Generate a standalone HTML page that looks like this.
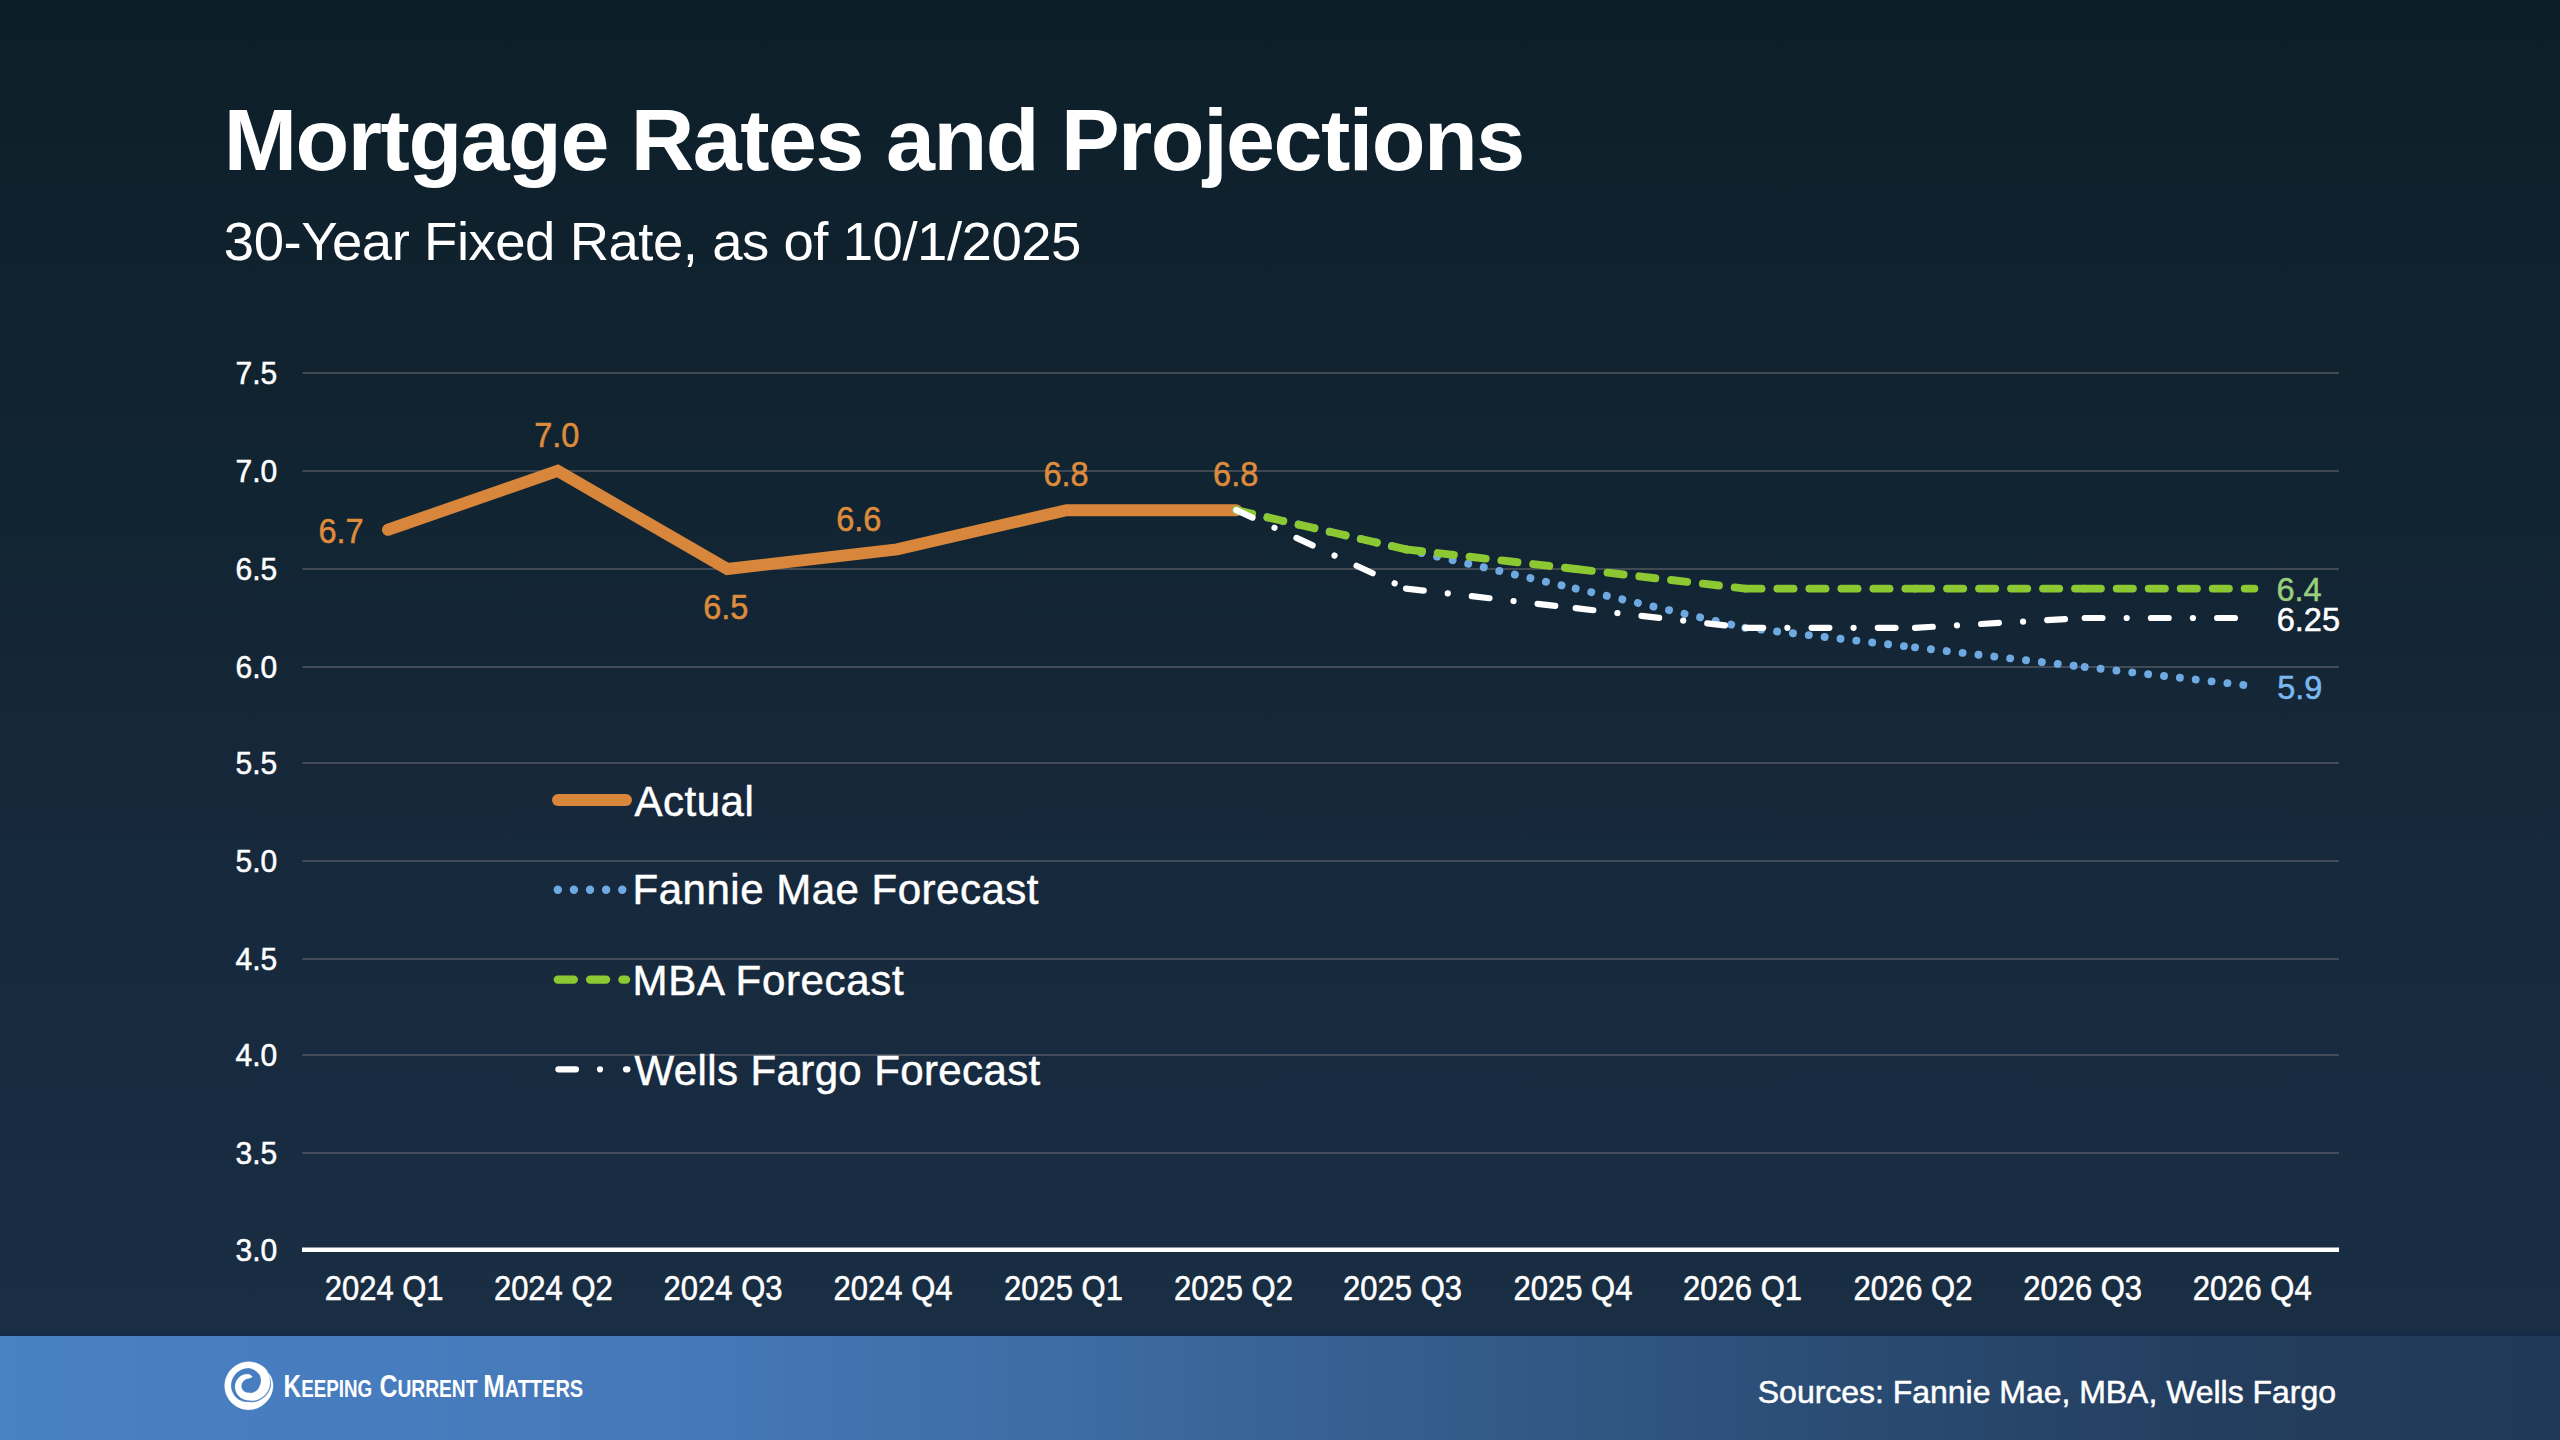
<!DOCTYPE html>
<html>
<head>
<meta charset="utf-8">
<style>
html,body{margin:0;padding:0;}
body{width:2560px;height:1440px;overflow:hidden;position:relative;font-family:"Liberation Sans",sans-serif;background:linear-gradient(to bottom,#0c1f29 0px,#10232f 400px,#16283a 800px,#182c42 1200px,#192d43 1330px,#162b4a 1336px);}
#footer{position:absolute;left:0;top:1336px;width:2560px;height:104px;
  background:linear-gradient(90deg,rgb(73,129,197) 0px,rgb(69,120,184) 700px,rgb(63,110,167) 1000px,rgb(56,98,148) 1300px,rgb(48,86,130) 1600px,rgb(41,74,112) 1900px,rgb(36,62,95) 2200px,rgb(33,57,86) 2560px);}
svg{position:absolute;left:0;top:0;}
</style>
</head>
<body>
<div id="footer"></div>
<svg width="2560" height="1440" viewBox="0 0 2560 1440" font-family="Liberation Sans, sans-serif">
<path d="M 252.22 1376.68 L 251.96 1376.38 L 251.67 1376.08 L 251.37 1375.80 L 251.06 1375.52 L 250.73 1375.25 L 250.37 1375.04 L 250.00 1374.84 L 249.62 1374.66 L 249.23 1374.49 L 248.83 1374.33 L 248.42 1374.28 L 248.01 1374.25 L 247.59 1374.23 L 247.18 1374.23 L 246.76 1374.24 L 246.34 1374.26 L 245.91 1374.30 L 245.49 1374.36 L 245.07 1374.43 L 244.65 1374.51 L 244.23 1374.62 L 243.81 1374.73 L 243.40 1374.86 L 242.99 1375.01 L 242.58 1375.17 L 242.18 1375.35 L 241.78 1375.54 L 241.38 1375.75 L 241.00 1375.97 L 240.62 1376.21 L 240.24 1376.46 L 239.88 1376.73 L 239.53 1377.01 L 239.19 1377.32 L 238.86 1377.64 L 238.55 1377.97 L 238.25 1378.31 L 237.95 1378.66 L 237.67 1379.03 L 237.40 1379.40 L 237.15 1379.79 L 236.90 1380.18 L 236.67 1380.59 L 236.46 1381.00 L 236.26 1381.42 L 236.07 1381.85 L 235.90 1382.29 L 235.74 1382.74 L 235.60 1383.19 L 235.47 1383.64 L 235.36 1384.11 L 235.27 1384.57 L 235.19 1385.05 L 235.13 1385.52 L 235.08 1386.00 L 235.07 1386.48 L 235.08 1386.96 L 235.10 1387.44 L 235.14 1387.92 L 235.20 1388.40 L 235.27 1388.88 L 235.36 1389.36 L 235.47 1389.83 L 235.59 1390.30 L 235.74 1390.77 L 235.89 1391.23 L 236.07 1391.68 L 236.26 1392.13 L 236.46 1392.58 L 236.68 1393.01 L 236.92 1393.44 L 237.17 1393.86 L 237.44 1394.28 L 237.72 1394.68 L 238.01 1395.08 L 238.32 1395.46 L 238.65 1395.83 L 238.99 1396.19 L 239.35 1396.53 L 239.72 1396.86 L 240.10 1397.17 L 240.49 1397.47 L 240.90 1397.76 L 241.31 1398.03 L 241.73 1398.29 L 242.16 1398.54 L 242.60 1398.76 L 243.05 1398.98 L 243.51 1399.17 L 243.97 1399.36 L 244.44 1399.52 L 244.91 1399.67 L 245.39 1399.80 L 245.87 1399.92 L 246.36 1400.02 L 246.85 1400.10 L 247.34 1400.16 L 247.84 1400.21 L 248.33 1400.24 L 248.83 1400.25 L 249.33 1400.36 L 249.84 1400.46 L 250.36 1400.54 L 250.88 1400.60 L 251.41 1400.64 L 251.95 1400.66 L 252.48 1400.66 L 253.03 1400.64 L 253.57 1400.60 L 254.12 1400.54 L 254.67 1400.46 L 255.22 1400.36 L 255.77 1400.24 L 256.32 1400.09 L 256.87 1399.93 L 257.42 1399.74 L 257.96 1399.54 L 258.50 1399.31 L 259.03 1399.06 L 259.56 1398.79 L 260.08 1398.50 L 260.60 1398.18 L 261.12 1397.87 L 261.65 1397.55 L 262.18 1397.20 L 262.70 1396.83 L 263.20 1396.44 L 263.70 1396.03 L 264.19 1395.60 L 264.66 1395.14 L 265.12 1394.66 L 265.56 1394.16 L 265.99 1393.64 L 266.41 1393.10 L 266.81 1392.54 L 267.19 1391.96 L 267.55 1391.37 L 267.89 1390.75 L 268.21 1390.12 L 268.51 1389.47 L 268.79 1388.80 L 269.04 1388.12 L 269.27 1387.43 L 269.48 1386.72 L 269.66 1386.00 L 269.79 1385.27 L 269.89 1384.53 L 269.96 1383.78 L 270.01 1383.02 L 270.03 1382.26 L 270.02 1381.50 L 269.99 1380.72 L 269.92 1379.95 L 269.83 1379.18 L 269.71 1378.40 L 269.56 1377.62 L 269.38 1376.85 L 269.18 1376.08 L 268.94 1375.31 L 268.68 1374.54 L 268.38 1373.78 L 268.06 1373.03 L 267.71 1372.29 L 267.33 1371.55 L 266.92 1370.82 L 266.48 1370.11 L 266.01 1369.41 L 265.48 1368.76 L 264.87 1368.18 L 264.25 1367.62 L 263.61 1367.08 L 262.95 1366.57 L 262.27 1366.08 L 261.57 1365.61 L 260.86 1365.17 L 260.13 1364.75 L 259.39 1364.36 L 258.63 1363.99 L 257.86 1363.65 L 257.08 1363.33 L 256.29 1363.05 L 255.49 1362.79 L 254.67 1362.56 L 253.86 1362.36 L 253.03 1362.18 L 252.20 1362.04 L 251.36 1361.92 L 250.52 1361.83 L 249.68 1361.78 L 248.83 1361.75 L 247.98 1361.77 L 247.14 1361.82 L 246.30 1361.89 L 245.46 1362.00 L 244.62 1362.14 L 243.79 1362.30 L 242.97 1362.50 L 242.15 1362.72 L 241.35 1362.97 L 240.55 1363.25 L 239.76 1363.55 L 238.98 1363.89 L 238.22 1364.25 L 237.47 1364.63 L 236.73 1365.05 L 236.01 1365.49 L 235.30 1365.95 L 234.62 1366.44 L 233.94 1366.95 L 233.29 1367.48 L 232.66 1368.04 L 232.04 1368.61 L 231.45 1369.21 L 230.87 1369.83 L 230.32 1370.47 L 229.79 1371.12 L 229.28 1371.80 L 228.79 1372.49 L 228.34 1373.19 L 227.90 1373.92 L 227.49 1374.65 L 227.11 1375.41 L 226.75 1376.17 L 226.42 1376.95 L 226.12 1377.73 L 225.85 1378.53 L 225.60 1379.34 L 225.38 1380.15 L 225.19 1380.98 L 225.03 1381.80 L 224.90 1382.64 L 224.80 1383.47 L 224.72 1384.31 L 224.68 1385.16 L 224.66 1386.00 L 224.69 1386.84 L 224.74 1387.68 L 224.82 1388.52 L 224.94 1389.36 L 225.08 1390.19 L 225.25 1391.01 L 225.44 1391.83 L 225.67 1392.64 L 225.93 1393.44 L 226.21 1394.23 L 226.52 1395.01 L 226.85 1395.78 L 227.22 1396.54 L 227.61 1397.28 L 228.02 1398.01 L 228.46 1398.73 L 228.93 1399.43 L 229.41 1400.11 L 229.93 1400.77 L 230.46 1401.41 L 231.02 1402.04 L 231.59 1402.65 L 232.19 1403.23 L 232.81 1403.79 L 233.44 1404.34 L 234.10 1404.85 L 234.77 1405.35 L 235.46 1405.82 L 236.17 1406.27 L 236.89 1406.69 L 237.62 1407.08 L 238.37 1407.45 L 239.12 1407.80 L 239.89 1408.12 L 240.68 1408.40 L 241.47 1408.67 L 242.26 1408.90 L 243.07 1409.11 L 243.88 1409.29 L 244.70 1409.43 L 245.52 1409.56 L 246.34 1409.65 L 247.17 1409.71 L 248.00 1409.74 L 248.83 1409.75 L 249.66 1409.73 L 250.49 1409.67 L 251.31 1409.59 L 252.13 1409.48 L 252.95 1409.34 L 253.76 1409.18 L 254.56 1408.98 L 255.36 1408.76 L 256.14 1408.51 L 256.92 1408.23 L 257.69 1407.93 L 258.44 1407.60 L 259.19 1407.24 L 259.92 1406.86 L 260.64 1406.45 L 261.34 1406.02 L 262.02 1405.56 L 262.69 1405.08 L 263.34 1404.58 L 263.98 1404.05 L 264.59 1403.51 L 265.19 1402.94 L 265.78 1402.36 L 266.36 1401.78 L 266.92 1401.18 L 267.47 1400.56 L 267.99 1399.92 L 268.49 1399.26 L 268.97 1398.58 L 269.42 1397.89 L 269.85 1397.18 L 270.26 1396.45 L 270.64 1395.71 L 270.99 1394.95 L 271.32 1394.19 L 271.62 1393.41 L 271.90 1392.61 L 272.15 1391.81 L 272.37 1391.00 L 272.56 1390.18 L 272.72 1389.36 L 272.85 1388.52 L 272.96 1387.69 L 273.03 1386.85 L 273.08 1386.00 L 273.05 1385.15 L 272.99 1384.31 L 272.90 1383.47 L 272.78 1382.63 L 272.63 1381.80 L 272.45 1380.98 L 272.25 1380.16 L 272.01 1379.35 L 271.75 1378.55 L 271.46 1377.76 L 271.08 1377.01 L 270.68 1376.27 L 270.25 1375.55 L 269.80 1374.85 L 269.33 1374.17 L 268.83 1373.50 L 268.62 1373.64 L 268.97 1374.38 L 269.28 1375.12 L 269.58 1375.88 L 269.84 1376.65 L 270.08 1377.42 L 270.29 1378.19 L 270.48 1378.96 L 270.65 1379.74 L 270.79 1380.52 L 270.90 1381.31 L 270.99 1382.09 L 271.05 1382.88 L 271.07 1383.66 L 271.08 1384.44 L 271.05 1385.22 L 271.00 1386.00 L 270.81 1386.77 L 270.60 1387.52 L 270.37 1388.26 L 270.11 1388.99 L 269.82 1389.70 L 269.51 1390.40 L 269.18 1391.07 L 268.83 1391.73 L 268.45 1392.38 L 268.06 1393.00 L 267.64 1393.60 L 267.21 1394.18 L 266.76 1394.75 L 266.30 1395.29 L 265.81 1395.81 L 265.32 1396.30 L 264.81 1396.78 L 264.28 1397.23 L 263.75 1397.65 L 263.20 1398.06 L 262.64 1398.44 L 262.08 1398.79 L 261.53 1399.15 L 261.00 1399.51 L 260.45 1399.85 L 259.90 1400.17 L 259.34 1400.46 L 258.77 1400.73 L 258.19 1400.99 L 257.61 1401.22 L 257.03 1401.42 L 256.44 1401.61 L 255.85 1401.77 L 255.26 1401.91 L 254.66 1402.03 L 254.07 1402.13 L 253.48 1402.20 L 252.88 1402.26 L 252.29 1402.29 L 251.70 1402.30 L 251.12 1402.29 L 250.54 1402.26 L 249.96 1402.21 L 249.39 1402.13 L 248.83 1402.04 L 248.27 1402.08 L 247.70 1402.10 L 247.14 1402.10 L 246.57 1402.08 L 246.00 1402.04 L 245.43 1401.98 L 244.86 1401.90 L 244.30 1401.80 L 243.73 1401.68 L 243.17 1401.54 L 242.61 1401.38 L 242.06 1401.20 L 241.51 1401.00 L 240.97 1400.78 L 240.43 1400.54 L 239.91 1400.28 L 239.38 1400.00 L 238.87 1399.71 L 238.37 1399.39 L 237.88 1399.05 L 237.39 1398.70 L 236.92 1398.33 L 236.47 1397.94 L 236.04 1397.52 L 235.62 1397.09 L 235.21 1396.64 L 234.82 1396.18 L 234.45 1395.70 L 234.09 1395.21 L 233.75 1394.71 L 233.42 1394.19 L 233.12 1393.66 L 232.83 1393.12 L 232.56 1392.57 L 232.31 1392.01 L 232.08 1391.44 L 231.86 1390.86 L 231.67 1390.28 L 231.50 1389.68 L 231.35 1389.08 L 231.22 1388.47 L 231.11 1387.86 L 231.02 1387.25 L 230.96 1386.62 L 230.91 1386.00 L 230.92 1385.37 L 230.95 1384.75 L 231.00 1384.13 L 231.07 1383.50 L 231.17 1382.89 L 231.28 1382.27 L 231.42 1381.66 L 231.58 1381.05 L 231.76 1380.45 L 231.96 1379.86 L 232.18 1379.27 L 232.42 1378.69 L 232.68 1378.12 L 232.96 1377.56 L 233.27 1377.01 L 233.59 1376.47 L 233.92 1375.95 L 234.28 1375.43 L 234.66 1374.93 L 235.05 1374.44 L 235.46 1373.96 L 235.88 1373.50 L 236.33 1373.05 L 236.79 1372.62 L 237.26 1372.21 L 237.75 1371.82 L 238.25 1371.44 L 238.76 1371.08 L 239.29 1370.74 L 239.83 1370.41 L 240.38 1370.11 L 240.94 1369.82 L 241.51 1369.56 L 242.09 1369.31 L 242.67 1369.09 L 243.27 1368.88 L 243.87 1368.70 L 244.48 1368.53 L 245.09 1368.39 L 245.70 1368.27 L 246.32 1368.18 L 246.95 1368.10 L 247.57 1368.04 L 248.20 1368.01 L 248.83 1368.00 L 249.45 1368.12 L 250.07 1368.27 L 250.68 1368.43 L 251.27 1368.62 L 251.86 1368.82 L 252.43 1369.05 L 253.00 1369.29 L 253.55 1369.55 L 254.08 1369.83 L 254.61 1370.13 L 255.12 1370.44 L 255.61 1370.77 L 256.09 1371.12 L 256.55 1371.48 L 257.00 1371.85 L 257.43 1372.24 L 257.84 1372.64 L 258.23 1373.06 L 258.61 1373.48 L 258.97 1373.91 L 259.31 1374.36 L 259.64 1374.81 L 259.91 1375.30 L 260.12 1375.83 L 260.31 1376.36 L 260.48 1376.90 L 260.63 1377.43 L 260.75 1377.96 L 260.85 1378.49 L 260.93 1379.01 L 260.99 1379.54 L 261.02 1380.05 L 261.04 1380.57 L 261.03 1381.07 L 261.00 1381.57 L 260.96 1382.06 L 260.89 1382.54 L 260.81 1383.01 L 260.70 1383.48 L 260.58 1383.93 L 260.45 1384.37 L 260.29 1384.80 L 260.13 1385.21 L 259.94 1385.61 L 259.75 1386.00 L 259.63 1386.38 L 259.49 1386.75 L 259.34 1387.11 L 259.19 1387.46 L 259.02 1387.80 L 258.83 1388.13 L 258.64 1388.45 L 258.44 1388.76 L 258.23 1389.05 L 258.01 1389.34 L 257.78 1389.62 L 257.54 1389.88 L 257.30 1390.13 L 257.05 1390.37 L 256.79 1390.60 L 256.53 1390.81 L 256.26 1391.01 L 255.99 1391.20 L 255.71 1391.38 L 255.43 1391.54 L 255.15 1391.69 L 254.87 1391.83 L 254.59 1391.97 L 254.34 1392.11 L 254.07 1392.25 L 253.81 1392.37 L 253.54 1392.49 L 253.27 1392.59 L 253.00 1392.68 L 252.73 1392.76 L 252.46 1392.83 L 252.19 1392.89 L 251.92 1392.94 L 251.65 1392.98 L 251.38 1393.00 L 251.11 1393.02 L 250.85 1393.03 L 250.58 1393.03 L 250.32 1393.02 L 250.06 1392.99 L 249.81 1392.96 L 249.56 1392.92 L 249.31 1392.87 L 249.07 1392.82 L 248.83 1392.75 L 248.59 1392.77 L 248.36 1392.78 L 248.12 1392.78 L 247.88 1392.78 L 247.64 1392.77 L 247.40 1392.74 L 247.16 1392.71 L 246.92 1392.67 L 246.68 1392.63 L 246.44 1392.57 L 246.20 1392.50 L 245.97 1392.43 L 245.73 1392.35 L 245.50 1392.26 L 245.27 1392.16 L 245.05 1392.05 L 244.83 1391.94 L 244.61 1391.81 L 244.39 1391.68 L 244.18 1391.54 L 243.98 1391.39 L 243.77 1391.24 L 243.58 1391.07 L 243.40 1390.89 L 243.23 1390.70 L 243.06 1390.51 L 242.90 1390.31 L 242.74 1390.11 L 242.60 1389.90 L 242.46 1389.68 L 242.32 1389.46 L 242.20 1389.24 L 242.08 1389.01 L 241.97 1388.77 L 241.87 1388.53 L 241.78 1388.29 L 241.69 1388.05 L 241.62 1387.80 L 241.55 1387.55 L 241.49 1387.29 L 241.44 1387.04 L 241.40 1386.78 L 241.37 1386.52 L 241.34 1386.26 L 241.33 1386.00 L 241.34 1385.74 L 241.37 1385.48 L 241.40 1385.22 L 241.44 1384.96 L 241.49 1384.71 L 241.55 1384.45 L 241.62 1384.20 L 241.69 1383.95 L 241.78 1383.71 L 241.87 1383.47 L 241.97 1383.23 L 242.08 1382.99 L 242.20 1382.76 L 242.32 1382.54 L 242.46 1382.32 L 242.60 1382.10 L 242.74 1381.89 L 242.90 1381.69 L 243.06 1381.49 L 243.23 1381.30 L 243.40 1381.11 L 243.58 1380.93 L 243.76 1380.75 L 243.94 1380.57 L 244.12 1380.39 L 244.31 1380.22 L 244.51 1380.05 L 244.71 1379.90 L 244.92 1379.74 L 245.14 1379.60 L 245.36 1379.46 L 245.58 1379.34 L 245.81 1379.21 L 246.04 1379.10 L 246.28 1379.00 L 246.52 1378.90 L 246.77 1378.81 L 247.02 1378.73 L 247.27 1378.66 L 247.52 1378.60 L 247.78 1378.54 L 248.04 1378.50 L 248.30 1378.46 L 248.57 1378.43 L 248.83 1378.42 L 249.10 1378.27 L 249.38 1378.14 L 249.67 1378.01 L 249.97 1377.90 L 250.28 1377.79 L 250.60 1377.67 L 250.93 1377.56 L 251.28 1377.46 L 251.63 1377.38 L 251.99 1377.31 Z" fill="#fff" stroke="#fff" stroke-width="0.3" stroke-linejoin="round"/>
<line x1="302.5" y1="373.0" x2="2339" y2="373.0" stroke="rgba(130,126,130,0.42)" stroke-width="2"/>
<line x1="302.5" y1="470.9" x2="2339" y2="470.9" stroke="rgba(130,126,130,0.42)" stroke-width="2"/>
<line x1="302.5" y1="569.0" x2="2339" y2="569.0" stroke="rgba(130,126,130,0.42)" stroke-width="2"/>
<line x1="302.5" y1="667.0" x2="2339" y2="667.0" stroke="rgba(130,126,130,0.42)" stroke-width="2"/>
<line x1="302.5" y1="763.0" x2="2339" y2="763.0" stroke="rgba(130,126,130,0.42)" stroke-width="2"/>
<line x1="302.5" y1="860.9" x2="2339" y2="860.9" stroke="rgba(130,126,130,0.42)" stroke-width="2"/>
<line x1="302.5" y1="959.0" x2="2339" y2="959.0" stroke="rgba(130,126,130,0.42)" stroke-width="2"/>
<line x1="302.5" y1="1055.0" x2="2339" y2="1055.0" stroke="rgba(130,126,130,0.42)" stroke-width="2"/>
<line x1="302.5" y1="1153.0" x2="2339" y2="1153.0" stroke="rgba(130,126,130,0.42)" stroke-width="2"/>
<line x1="302" y1="1249.8" x2="2339" y2="1249.8" stroke="#FFFFFF" stroke-width="4.4"/>
<polyline points="388.00,529.76 557.67,470.90 727.34,569.00 897.01,549.38 1066.68,510.14 1236.35,510.14" fill="none" stroke="#D7863B" stroke-width="12" stroke-linejoin="miter" stroke-linecap="round"/>
<g stroke="#6EAAE1" stroke-width="7.9" stroke-dasharray="0.01 15.95" stroke-linecap="round" fill="none"><line x1="1236.35" y1="510.14" x2="1406.02" y2="549.38"/><line x1="1406.02" y1="549.38" x2="1575.69" y2="588.60"/><line x1="1575.69" y1="588.60" x2="1745.36" y2="627.80"/><line x1="1745.36" y1="627.80" x2="1915.03" y2="647.40"/><line x1="1915.03" y1="647.40" x2="2084.70" y2="667.00"/><line x1="2084.70" y1="667.00" x2="2254.37" y2="686.20"/></g>
<g stroke="#8CC832" stroke-width="7.9" stroke-dasharray="16.2 15.8" stroke-linecap="round" fill="none"><line x1="1236.35" y1="510.14" x2="1406.02" y2="549.38"/><line x1="1406.02" y1="549.38" x2="1575.69" y2="569.00"/><line x1="1575.69" y1="569.00" x2="1745.36" y2="588.60"/><line x1="1745.36" y1="588.60" x2="1915.03" y2="588.60"/><line x1="1915.03" y1="588.60" x2="2084.70" y2="588.60"/><line x1="2084.70" y1="588.60" x2="2254.37" y2="588.60"/></g>
<g stroke="#FFFFFF" stroke-width="6.2" stroke-dasharray="17.8 24.2 0.01 24.2" stroke-linecap="round" fill="none"><line x1="1236.35" y1="510.14" x2="1406.02" y2="588.60"/><line x1="1406.02" y1="588.60" x2="1575.69" y2="608.20"/><line x1="1575.69" y1="608.20" x2="1745.36" y2="627.80"/><line x1="1745.36" y1="627.80" x2="1915.03" y2="627.80"/><line x1="1915.03" y1="627.80" x2="2084.70" y2="618.00"/><line x1="2084.70" y1="618.00" x2="2254.37" y2="618.00"/></g>
<line x1="558" y1="800.1" x2="626" y2="800.1" stroke="#D7863B" stroke-width="12" stroke-linecap="round"/>
<line x1="557.8" y1="889.8" x2="630" y2="889.8" stroke="#6EAAE1" stroke-width="8.4" stroke-dasharray="0.01 16.1" stroke-linecap="round"/>
<line x1="557.8" y1="979.6" x2="626" y2="979.6" stroke="#8CC832" stroke-width="8.4" stroke-dasharray="16 16.3" stroke-linecap="round"/>
<line x1="558.4" y1="1069.3" x2="627.4" y2="1069.3" stroke="#FFFFFF" stroke-width="6.2" stroke-dasharray="17.6 24 0.01 26" stroke-linecap="round"/>
<text x="223.75" y="170.00" font-size="88" fill="#fff" font-weight="bold" textLength="1301.50" lengthAdjust="spacing">Mortgage Rates and Projections</text>
<text x="223.80" y="260.00" font-size="54.5" fill="#fff" textLength="857.60" lengthAdjust="spacing">30-Year Fixed Rate, as of 10/1/2025</text>
<text x="277.30" y="383.95" font-size="30" fill="#fff" text-anchor="end" stroke="#fff" stroke-width="0.5" transform="matrix(1,0,0,1.03,0,-11.519)">7.5</text>
<text x="277.30" y="481.65" font-size="30" fill="#fff" text-anchor="end" stroke="#fff" stroke-width="0.5" transform="matrix(1,0,0,1.03,0,-14.450)">7.0</text>
<text x="277.30" y="579.95" font-size="30" fill="#fff" text-anchor="end" stroke="#fff" stroke-width="0.5" transform="matrix(1,0,0,1.03,0,-17.399)">6.5</text>
<text x="277.30" y="677.95" font-size="30" fill="#fff" text-anchor="end" stroke="#fff" stroke-width="0.5" transform="matrix(1,0,0,1.03,0,-20.339)">6.0</text>
<text x="277.30" y="773.95" font-size="30" fill="#fff" text-anchor="end" stroke="#fff" stroke-width="0.5" transform="matrix(1,0,0,1.03,0,-23.219)">5.5</text>
<text x="277.30" y="871.65" font-size="30" fill="#fff" text-anchor="end" stroke="#fff" stroke-width="0.5" transform="matrix(1,0,0,1.03,0,-26.150)">5.0</text>
<text x="277.30" y="969.95" font-size="30" fill="#fff" text-anchor="end" stroke="#fff" stroke-width="0.5" transform="matrix(1,0,0,1.03,0,-29.099)">4.5</text>
<text x="277.30" y="1065.95" font-size="30" fill="#fff" text-anchor="end" stroke="#fff" stroke-width="0.5" transform="matrix(1,0,0,1.03,0,-31.979)">4.0</text>
<text x="277.30" y="1163.95" font-size="30" fill="#fff" text-anchor="end" stroke="#fff" stroke-width="0.5" transform="matrix(1,0,0,1.03,0,-34.919)">3.5</text>
<text x="277.30" y="1260.95" font-size="30" fill="#fff" text-anchor="end" stroke="#fff" stroke-width="0.5" transform="matrix(1,0,0,1.03,0,-37.829)">3.0</text>
<text x="324.70" y="1299.80" font-size="31" fill="#fff" stroke="#fff" stroke-width="0.5" transform="matrix(1,0,0,1.11,0,-142.978)">2024 Q1</text>
<text x="493.90" y="1299.80" font-size="31" fill="#fff" stroke="#fff" stroke-width="0.5" transform="matrix(1,0,0,1.11,0,-142.978)">2024 Q2</text>
<text x="663.60" y="1299.80" font-size="31" fill="#fff" stroke="#fff" stroke-width="0.5" transform="matrix(1,0,0,1.11,0,-142.978)">2024 Q3</text>
<text x="833.60" y="1299.80" font-size="31" fill="#fff" stroke="#fff" stroke-width="0.5" transform="matrix(1,0,0,1.11,0,-142.978)">2024 Q4</text>
<text x="1004.00" y="1299.80" font-size="31" fill="#fff" stroke="#fff" stroke-width="0.5" transform="matrix(1,0,0,1.11,0,-142.978)">2025 Q1</text>
<text x="1174.00" y="1299.80" font-size="31" fill="#fff" stroke="#fff" stroke-width="0.5" transform="matrix(1,0,0,1.11,0,-142.978)">2025 Q2</text>
<text x="1343.10" y="1299.80" font-size="31" fill="#fff" stroke="#fff" stroke-width="0.5" transform="matrix(1,0,0,1.11,0,-142.978)">2025 Q3</text>
<text x="1513.50" y="1299.80" font-size="31" fill="#fff" stroke="#fff" stroke-width="0.5" transform="matrix(1,0,0,1.11,0,-142.978)">2025 Q4</text>
<text x="1683.10" y="1299.80" font-size="31" fill="#fff" stroke="#fff" stroke-width="0.5" transform="matrix(1,0,0,1.11,0,-142.978)">2026 Q1</text>
<text x="1853.50" y="1299.80" font-size="31" fill="#fff" stroke="#fff" stroke-width="0.5" transform="matrix(1,0,0,1.11,0,-142.978)">2026 Q2</text>
<text x="2023.20" y="1299.80" font-size="31" fill="#fff" stroke="#fff" stroke-width="0.5" transform="matrix(1,0,0,1.11,0,-142.978)">2026 Q3</text>
<text x="2192.80" y="1299.80" font-size="31" fill="#fff" stroke="#fff" stroke-width="0.5" transform="matrix(1,0,0,1.11,0,-142.978)">2026 Q4</text>
<text x="318.50" y="543.00" font-size="32.5" fill="#DE8C3C" stroke="#DE8C3C" stroke-width="0.5" transform="matrix(1,0,0,1.07,0,-38.010)">6.7</text>
<text x="534.25" y="447.50" font-size="32.5" fill="#DE8C3C" stroke="#DE8C3C" stroke-width="0.5" transform="matrix(1,0,0,1.07,0,-31.325)">7.0</text>
<text x="703.20" y="619.50" font-size="32.5" fill="#DE8C3C" stroke="#DE8C3C" stroke-width="0.5" transform="matrix(1,0,0,1.07,0,-43.365)">6.5</text>
<text x="836.20" y="531.30" font-size="32.5" fill="#DE8C3C" stroke="#DE8C3C" stroke-width="0.5" transform="matrix(1,0,0,1.07,0,-37.191)">6.6</text>
<text x="1043.50" y="486.00" font-size="32.5" fill="#DE8C3C" stroke="#DE8C3C" stroke-width="0.5" transform="matrix(1,0,0,1.07,0,-34.020)">6.8</text>
<text x="1213.10" y="486.00" font-size="32.5" fill="#DE8C3C" stroke="#DE8C3C" stroke-width="0.5" transform="matrix(1,0,0,1.07,0,-34.020)">6.8</text>
<text x="2276.50" y="601.20" font-size="32.5" fill="#9BCD7D" stroke="#9BCD7D" stroke-width="0.5" transform="matrix(1,0,0,1.05,0,-30.060)">6.4</text>
<text x="2276.75" y="631.00" font-size="32.5" fill="#FFFFFF" stroke="#FFFFFF" stroke-width="0.5" transform="matrix(1,0,0,1.05,0,-31.550)">6.25</text>
<text x="2277.20" y="699.00" font-size="32.5" fill="#7AB8EE" stroke="#7AB8EE" stroke-width="0.5" transform="matrix(1,0,0,1.05,0,-34.950)">5.9</text>
<text x="634.50" y="815.50" font-size="42" fill="#fff" textLength="119.30" lengthAdjust="spacing" stroke="#fff" stroke-width="0.5">Actual</text>
<text x="632.60" y="904.20" font-size="42" fill="#fff" textLength="405.80" lengthAdjust="spacing" stroke="#fff" stroke-width="0.5">Fannie Mae Forecast</text>
<text x="632.60" y="994.80" font-size="42" fill="#fff" textLength="271.00" lengthAdjust="spacing" stroke="#fff" stroke-width="0.5">MBA Forecast</text>
<text x="634.60" y="1084.90" font-size="42" fill="#fff" textLength="405.60" lengthAdjust="spacing" stroke="#fff" stroke-width="0.5">Wells Fargo Forecast</text>
<text x="1757.80" y="1403.30" font-size="32" fill="#fff" textLength="578.20" lengthAdjust="spacing" stroke="#fff" stroke-width="0.5">Sources: Fannie Mae, MBA, Wells Fargo</text>
<text x="283.60" y="1397.30" font-size="31" fill="#fff" font-weight="bold" textLength="88.60" lengthAdjust="spacingAndGlyphs"><tspan font-size="31">K</tspan><tspan font-size="24">EEPING</tspan></text>
<text x="379.50" y="1397.30" font-size="31" fill="#fff" font-weight="bold" textLength="98.00" lengthAdjust="spacingAndGlyphs"><tspan font-size="31">C</tspan><tspan font-size="24">URRENT</tspan></text>
<text x="483.20" y="1397.30" font-size="31" fill="#fff" font-weight="bold" textLength="100.00" lengthAdjust="spacingAndGlyphs"><tspan font-size="31">M</tspan><tspan font-size="24">ATTERS</tspan></text>
</svg>
</body>
</html>
